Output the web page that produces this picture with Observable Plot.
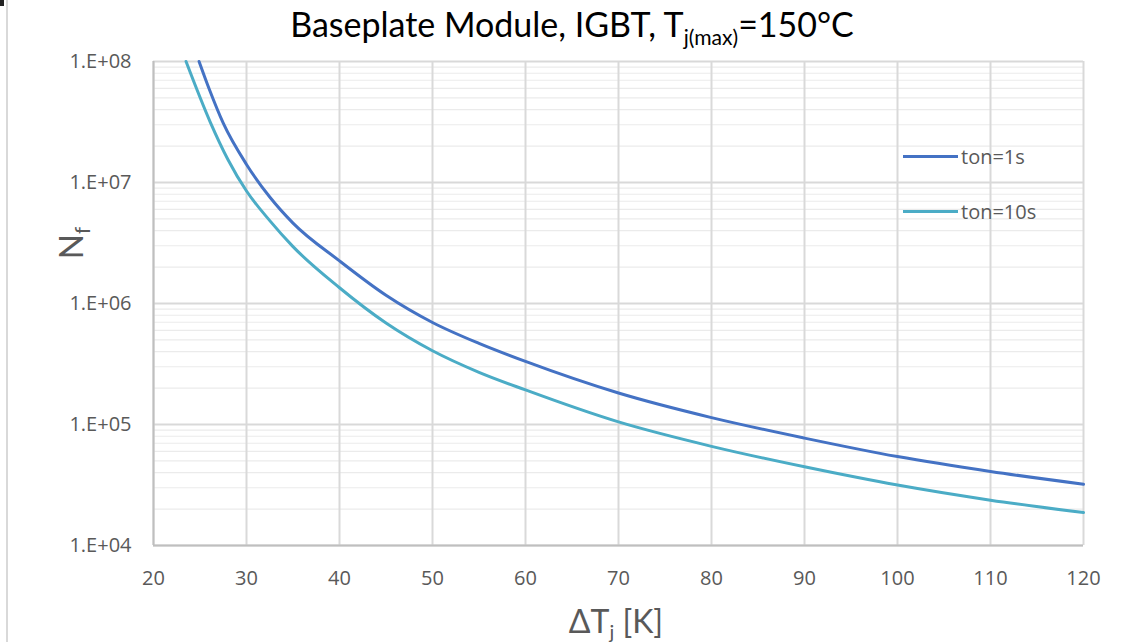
<!DOCTYPE html>
<html>
<head>
<meta charset="utf-8">
<script src="https://cdn.jsdelivr.net/npm/d3@7"></script>
<script src="https://cdn.jsdelivr.net/npm/@observablehq/plot@0.6"></script>
<style>
  html, body { margin: 0; padding: 0; background: #fff; }
  #wrap { position: relative; width: 1125px; height: 642px; overflow: hidden; font-family: "Open Sans", sans-serif; color: #595959; }
  #edge { position: absolute; left: 6px; top: 0; width: 2px; height: 642px; background: #d9d9d9; }
  #mark { position: absolute; left: 0; top: 0; width: 4px; height: 6px; background: #222; }
  #title { position: absolute; top: 3px; left: 572px; transform: translateX(-50%); white-space: nowrap; font-family: Lato, "Open Sans", sans-serif; font-size: 34px; color: #000; }
  #title sub { font-size: 0.62em; vertical-align: -0.4em; }
  #ylab { position: absolute; left: 72px; top: 243px; transform: translate(-50%, -50%) rotate(-90deg); white-space: nowrap; font-family: Lato, "Open Sans", sans-serif; font-size: 33px; color: #595959; }
  #ylab sub { font-size: 0.62em; vertical-align: -0.35em; }
  #xlab { position: absolute; left: 616px; top: 622px; transform: translate(-50%, -50%); white-space: nowrap; font-family: Lato, "Open Sans", sans-serif; font-size: 32px; color: #595959; }
  #xlab sub { font-size: 0.62em; vertical-align: -0.35em; }
  .leg { position: absolute; left: 903px; display: flex; align-items: center; font-size: 20px; color: #595959; white-space: nowrap; }
  .leg span.sw { display: inline-block; width: 55px; height: 3px; margin-right: 3px; }
</style>
</head>
<body>
<div id="wrap">
  <div id="edge"></div>
  <div id="mark"></div>
</div>
<script>
// ---- data ----
const seriesNames = ["ton=1s", "ton=10s"];
const seriesColors = ["#4472C4", "#4BACC6"];

const dT1 = [24.9, 26, 27.5, 30, 32.5, 35, 40, 45, 50, 55, 60, 70, 80, 90, 100, 110, 120];
const nf1 = [1.0e8, 5.89e7, 3.09e7, 1.41e7, 7.59e6, 4.62e6, 2.25e6, 1.17e6, 6.97e5, 4.68e5, 3.32e5, 1.82e5, 1.14e5, 7.72e4, 5.43e4, 4.09e4, 3.21e4];

const dT2 = [23.5, 26.1, 28, 30, 32.5, 35, 40, 45, 50, 55, 60, 70, 80, 90, 100, 110, 120];
const nf2 = [1.0e8, 3.16e7, 1.55e7, 8.5e6, 4.84e6, 2.95e6, 1.35e6, 6.9e5, 4.07e5, 2.7e5, 1.93e5, 1.05e5, 6.6e4, 4.47e4, 3.16e4, 2.37e4, 1.87e4];

const xTicks = [20, 30, 40, 50, 60, 70, 80, 90, 100, 110, 120];
const yTicks = [1e4, 1e5, 1e6, 1e7, 1e8];
const yTickLabels = ["1.E+04", "1.E+05", "1.E+06", "1.E+07", "1.E+08"];

// ---- build ----
const data1 = dT1.map((t, i) => ({t, n: nf1[i]}));
const data2 = dT2.map((t, i) => ({t, n: nf2[i]}));
const minorTicks = [];
for (let k = 0; k < yTicks.length - 1; k++) for (let m = 2; m <= 9; m++) minorTicks.push(m * yTicks[k]);

const chart = Plot.plot({
  width: 1125,
  height: 642,
  marginLeft: 153,
  marginRight: 42,
  marginTop: 61,
  marginBottom: 97,
  style: { fontFamily: "'Open Sans', sans-serif", fontSize: "20px", color: "#595959", background: "transparent" },
  x: { domain: [20, 120], ticks: xTicks, tickSize: 0, tickPadding: 25, label: null },
  y: { type: "log", domain: [1e4, 1e8], ticks: yTicks, tickSize: 0, tickPadding: 22, label: null,
       tickFormat: d => yTickLabels[yTicks.indexOf(d)] },
  marks: [
    Plot.ruleY(minorTicks, { stroke: "#ebebeb", strokeWidth: 1.2 }),
    Plot.ruleY(yTicks, { stroke: "#d9d9d9", strokeWidth: 2 }),
    Plot.ruleX(xTicks, { stroke: "#d9d9d9", strokeWidth: 2 }),
    Plot.ruleX([20], { stroke: "#bfbfbf", strokeWidth: 2 }),
    Plot.ruleY([1e4], { stroke: "#bfbfbf", strokeWidth: 2 }),
    Plot.line(data1, { x: "t", y: "n", stroke: seriesColors[0], strokeWidth: 3, curve: "monotone-x" }),
    Plot.line(data2, { x: "t", y: "n", stroke: seriesColors[1], strokeWidth: 3, curve: "monotone-x" })
  ]
});
chart.style.position = "absolute";
chart.style.left = "0px";
chart.style.top = "0px";
const wrap = document.getElementById("wrap");
wrap.appendChild(chart);

const title = document.createElement("div");
title.id = "title";
title.innerHTML = "Baseplate Module, IGBT, T<sub>j(max)</sub>=150°C";
wrap.appendChild(title);

const ylab = document.createElement("div");
ylab.id = "ylab";
ylab.innerHTML = "N<sub>f</sub>";
wrap.appendChild(ylab);

const xlab = document.createElement("div");
xlab.id = "xlab";
xlab.innerHTML = "ΔT<sub>j</sub> [K]";
wrap.appendChild(xlab);

const legTops = [143, 198];
seriesNames.forEach((name, i) => {
  const d = document.createElement("div");
  d.className = "leg";
  d.style.top = legTops[i] + "px";
  d.innerHTML = `<span class="sw" style="background:${seriesColors[i]}"></span>${name}`;
  wrap.appendChild(d);
});
</script>
</body>
</html>
